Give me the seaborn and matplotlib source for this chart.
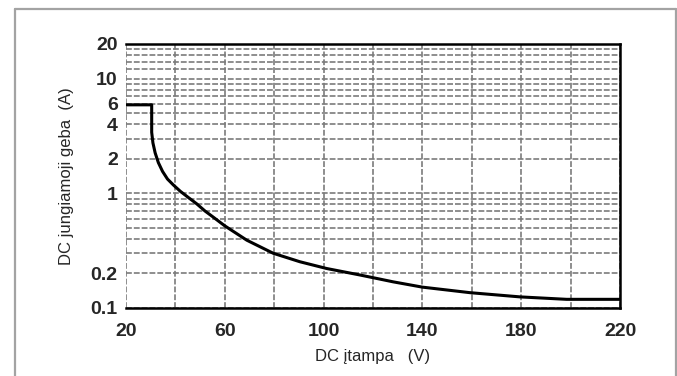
import matplotlib
matplotlib.use("Agg")
import matplotlib.pyplot as plt
from matplotlib.lines import Line2D
from matplotlib.ticker import FixedLocator, NullFormatter
import seaborn as sns
import pandas as pd

# ---- data ----
voltage = [20, 30.4, 30.4, 30.9, 31.8, 33.1, 34.8, 36.8, 39.2, 42, 45.2, 48.6, 52,
           55.3, 60, 68.9, 79.6, 90.4, 101.2, 114.7, 128.2, 140, 159.3, 179.5, 198.4, 220]
current = [5.9, 5.9, 3.4, 2.75, 2.25, 1.85, 1.55, 1.33, 1.18, 1.04, 0.92, 0.81, 0.70,
           0.62, 0.52, 0.39, 0.30, 0.253, 0.221, 0.194, 0.169, 0.152, 0.136, 0.125, 0.119, 0.119]

x_ticks = [20, 60, 100, 140, 180, 220]
x_grid = [40, 80, 120, 160, 200]
y_ticks = [0.1, 0.2, 1, 2, 4, 6, 10, 20]
y_tick_labels = ["0.1", "0.2", "1", "2", "4", "6", "10", "20"]
y_grid = [0.3, 0.4, 0.5, 0.6, 0.7, 0.8, 0.9, 3, 5, 7, 8, 9, 12, 14, 16, 18]

x_label = "DC įtampa   (V)"
y_label = "DC jungiamoji geba  (A)"

df = pd.DataFrame({"V": voltage, "I": current})

sns.set_style("white")
plt.rcParams["font.family"] = ["Liberation Sans", "DejaVu Sans"]

fig = plt.figure(figsize=(6.77, 3.76), dpi=100)
ax = fig.add_axes([126 / 677, 1 - 308 / 376, (620 - 126) / 677, (308 - 44) / 376])

sns.lineplot(data=df, x="V", y="I", ax=ax, color="black", linewidth=2.2,
             estimator=None, sort=False)

ax.set_yscale("log")
ax.set_xlim(20, 220)
ax.set_ylim(0.1, 20)

ax.xaxis.set_major_locator(FixedLocator(x_ticks))
ax.xaxis.set_minor_locator(FixedLocator(x_grid))
ax.yaxis.set_major_locator(FixedLocator(y_ticks))
ax.yaxis.set_minor_locator(FixedLocator(y_grid))
ax.set_yticklabels(y_tick_labels)
ax.yaxis.set_minor_formatter(NullFormatter())
ax.xaxis.set_minor_formatter(NullFormatter())

grid_kw = dict(color="#7c7c7c", linestyle=(0, (3.5, 1.2)), linewidth=1.2)
ax.grid(True, which="both", axis="both", **grid_kw)

ax.tick_params(axis="both", which="major", length=2, width=0.8, color="#555555",
               labelsize=14)
ax.tick_params(axis="x", which="major", pad=9)
ax.tick_params(axis="y", which="major", pad=4)
ax.tick_params(axis="both", which="minor", length=0)
for lab in ax.get_xticklabels() + ax.get_yticklabels():
    lab.set_fontweight("bold")

ax.set_xlabel(x_label, fontsize=12, labelpad=6)
ax.set_ylabel(y_label, fontsize=12, labelpad=12)

for side in ["top", "bottom", "right"]:
    ax.spines[side].set_visible(True)
    ax.spines[side].set_color("black")
    ax.spines[side].set_linewidth(1.8)
ax.spines["left"].set_visible(False)

# outer frame (left, top, right; open at the bottom)
fc = "#a3a3a3"
fw = 1.6
fig.add_artist(Line2D([15 / 677, 15 / 677], [0, 1 - 9 / 376], transform=fig.transFigure,
                      color=fc, linewidth=fw))
fig.add_artist(Line2D([15 / 677, 676 / 677], [1 - 9 / 376, 1 - 9 / 376],
                      transform=fig.transFigure, color=fc, linewidth=fw))
fig.add_artist(Line2D([676 / 677, 676 / 677], [0, 1 - 9 / 376], transform=fig.transFigure,
                      color=fc, linewidth=fw))

fig.savefig("out.png", dpi=100)
